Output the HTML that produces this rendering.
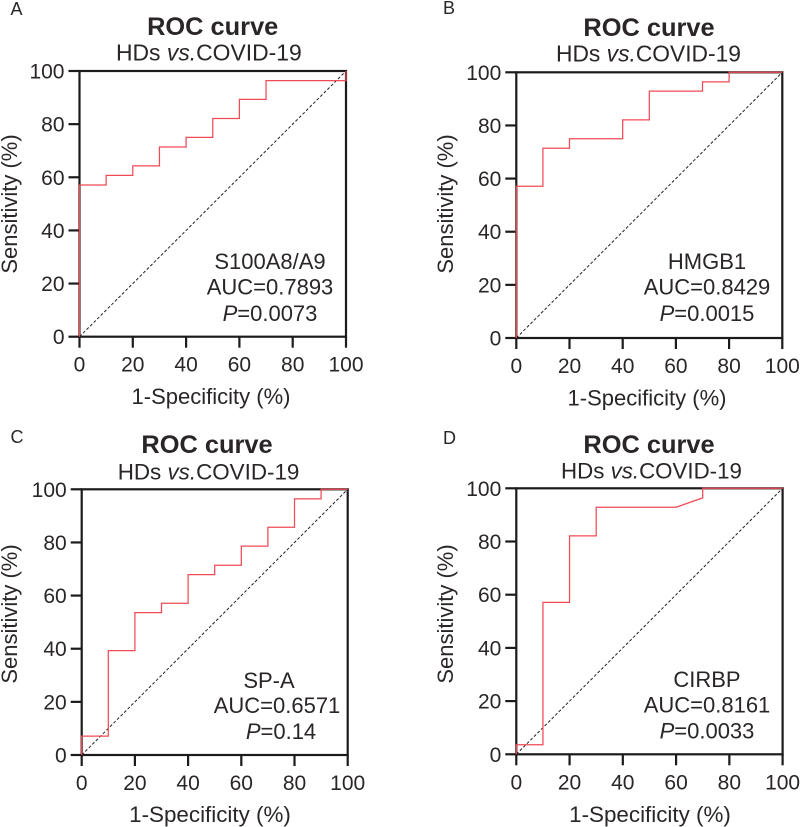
<!DOCTYPE html>
<html lang="en">
<head>
<meta charset="utf-8">
<title>ROC curves</title>
<style>
html,body{margin:0;padding:0;background:#fff;}
svg{display:block;}
text{font-family:"Liberation Sans",Arial,sans-serif;fill:#2a2627;}
.letter{font-size:18px;}
.title{font-size:25.4px;font-weight:bold;text-anchor:middle;}
.tick{font-size:21px;}
.axt{font-size:22px;text-anchor:middle;}
.note{font-size:22px;text-anchor:middle;}
</style>
</head>
<body>
<svg id="fig" xmlns="http://www.w3.org/2000/svg" width="800" height="827" viewBox="0 0 800 827">
  <g id="panel-a">
    <text class="letter" x="10.5" y="15">A</text>
    <text class="title" x="212.7" y="35">ROC curve</text>
    <text x="116" y="60.7" font-size="22.9">HDs <tspan font-style="italic">vs.</tspan>COVID-19</text>
    <text class="axt" x="211" y="404">1-Specificity (%)</text>
    <text class="axt" transform="translate(17 204) rotate(-90)">Sensitivity (%)</text>
    <text class="note" x="270" y="269">S100A8/A9</text>
    <text class="note" x="270" y="294.3">AUC=0.7893</text>
    <text class="note" x="270" y="321"><tspan font-style="italic">P</tspan>=0.0073</text>
  </g>
  <g id="panel-b">
    <text class="letter" x="443" y="14">B</text>
    <text class="title" x="649" y="36">ROC curve</text>
    <text x="556" y="61.5" font-size="22.8">HDs <tspan font-style="italic">vs.</tspan>COVID-19</text>
    <text class="axt" x="647" y="405.7">1-Specificity (%)</text>
    <text class="axt" transform="translate(453 204) rotate(-90)">Sensitivity (%)</text>
    <text class="note" x="707" y="269">HMGB1</text>
    <text class="note" x="707" y="294.3">AUC=0.8429</text>
    <text class="note" x="707" y="321"><tspan font-style="italic">P</tspan>=0.0015</text>
  </g>
  <g id="panel-c">
    <text class="letter" x="10.5" y="443">C</text>
    <text class="title" x="207" y="453">ROC curve</text>
    <text x="117.7" y="479.3" font-size="22.4">HDs <tspan font-style="italic">vs.</tspan>COVID-19</text>
    <text class="axt" x="210" y="822" style="font-size:22.4px">1-Specificity (%)</text>
    <text class="axt" transform="translate(17 614) rotate(-90)">Sensitivity (%)</text>
    <text class="note" x="269" y="688">SP-A</text>
    <text class="note" x="277" y="713">AUC=0.6571</text>
    <text class="note" x="281" y="739"><tspan font-style="italic">P</tspan>=0.14</text>
  </g>
  <g id="panel-d">
    <text class="letter" x="443" y="444">D</text>
    <text class="title" x="649" y="453">ROC curve</text>
    <text x="561" y="478.5" font-size="22.3">HDs <tspan font-style="italic">vs.</tspan>COVID-19</text>
    <text class="axt" x="650" y="822" style="font-size:22.4px">1-Specificity (%)</text>
    <text class="axt" transform="translate(453 614) rotate(-90)">Sensitivity (%)</text>
    <text class="note" x="707" y="687">CIRBP</text>
    <text class="note" x="707" y="712.7">AUC=0.8161</text>
    <text class="note" x="707" y="738.7"><tspan font-style="italic">P</tspan>=0.0033</text>
  </g>
</svg>
<script>
const tickValues = [0, 20, 40, 60, 80, 100];
const referenceLine = [0, 100];

const specificityA = [0, 0, 10, 10, 20, 20, 30, 30, 40, 40, 50, 50, 60, 60, 70, 70, 100, 100];
const sensitivityA = [0, 57.1, 57.1, 60.7, 60.7, 64.3, 64.3, 71.4, 71.4, 75, 75, 82.1, 82.1, 89.3, 89.3, 96.4, 96.4, 100];

const specificityB = [0, 0, 10, 10, 20, 20, 40, 40, 50, 50, 70, 70, 80, 80, 100];
const sensitivityB = [0, 57.1, 57.1, 71.4, 71.4, 75, 75, 82.1, 82.1, 92.9, 92.9, 96.4, 96.4, 100, 100];

const specificityC = [0, 0, 10, 10, 20, 20, 30, 30, 40, 40, 50, 50, 60, 60, 70, 70, 80, 80, 90, 90, 100];
const sensitivityC = [0, 7.1, 7.1, 39.3, 39.3, 53.6, 53.6, 57.1, 57.1, 67.9, 67.9, 71.4, 71.4, 78.6, 78.6, 85.7, 85.7, 96.4, 96.4, 100, 100];

const specificityD = [0, 0, 10, 10, 20, 20, 30, 30, 60, 70, 70, 100];
const sensitivityD = [0, 3.6, 3.6, 57.1, 57.1, 82.1, 82.1, 92.9, 92.9, 96.4, 100, 100];

const NS = 'http://www.w3.org/2000/svg';
const INK = '#1c1a1b';

function shape(parent, tag, props) {
  const el = document.createElementNS(NS, tag);
  for (const k in props) el.setAttribute(k, props[k]);
  parent.appendChild(el);
  return el;
}

function drawPanel(id, suffix, box, xs, ys) {
  const g = document.getElementById(id);
  const X = v => box.x0 + (box.x1 - box.x0) * v / 100;
  const Y = v => box.y0 + (box.y1 - box.y0) * v / 100;

  tickValues.forEach(v => {
    const xt = shape(g, 'line', {x1: X(v), x2: X(v), y1: Y(0), y2: Y(0) + 11, stroke: INK, 'stroke-width': 2.2});
    
    
    const yt = shape(g, 'line', {x1: X(0) - 11, x2: X(0), y1: Y(v), y2: Y(v), stroke: INK, 'stroke-width': 2.2});
    
    
    const xl = shape(g, 'text', {class: 'tick', x: X(v), y: Y(0) + 35, 'text-anchor': 'middle'});
    xl.textContent = String(v);
    
    
    const yl = shape(g, 'text', {class: 'tick', x: X(0) - 15, y: Y(v) + 7.5, 'text-anchor': 'end'});
    yl.textContent = String(v);
    
    
  });

  const frame = shape(g, 'rect', {x: X(0), y: Y(100), width: X(100) - X(0), height: Y(0) - Y(100), fill: 'none', stroke: INK, 'stroke-width': 2.2});
  
  

  const diag = shape(g, 'line', {x1: X(referenceLine[0]), y1: Y(referenceLine[0]), x2: X(referenceLine[1]), y2: Y(referenceLine[1]), stroke: '#222', 'stroke-width': 1, 'stroke-dasharray': '3 2'});
  
  

  const points = xs.map((v, i) => X(v).toFixed(2) + ',' + Y(ys[i]).toFixed(2)).join(' ');
  const roc = shape(g, 'polyline', {points: points, fill: 'none', stroke: '#f04a55', 'stroke-width': 1.25, 'stroke-linejoin': 'miter'});
  
  
}

drawPanel('panel-a', 'a', {x0: 79.5, x1: 346, y0: 336.7, y1: 71}, specificityA, sensitivityA);
drawPanel('panel-b', 'b', {x0: 516.3, x1: 782.3, y0: 338, y1: 72.3}, specificityB, sensitivityB);
drawPanel('panel-c', 'c', {x0: 81.7, x1: 347.7, y0: 755, y1: 489.3}, specificityC, sensitivityC);
drawPanel('panel-d', 'd', {x0: 516.3, x1: 782.6, y0: 754.3, y1: 488.3}, specificityD, sensitivityD);
</script>
</body>
</html>
